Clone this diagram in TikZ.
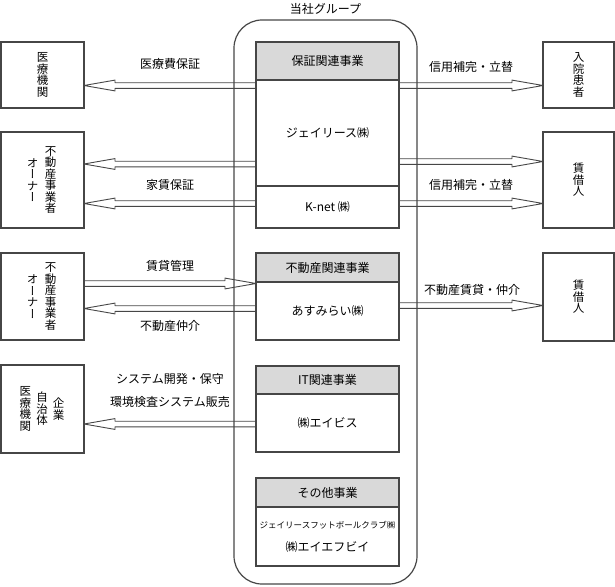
\documentclass[tikz,border=0pt]{standalone}
\usepackage{fontspec}
\setmainfont{Noto Sans CJK JP}
\newfontfamily\tatefont[RawFeature=+vert]{Noto Sans CJK JP}
\usetikzlibrary{positioning,chains,calc}
\definecolor{linegray}{RGB}{70,70,70}
\definecolor{headgray}{RGB}{217,217,217}

\begin{document}
\begin{tikzpicture}[
x=1pt,y=-1pt,
font=\fontsize{12}{14}\selectfont,
every node/.style={inner sep=0pt,outer sep=0pt},
party/.style={draw=linegray,line width=1.1pt,minimum width=83pt,anchor=north west},
tate/.style={align=center,font=\tatefont\fontsize{11.5}{11.5}\selectfont},
sect/.style={draw=linegray,line width=1.1pt,fill=headgray,minimum width=143pt,on chain},
firm/.style={draw=linegray,line width=1.1pt,minimum width=143pt,on chain},
flow/.style={draw=linegray,line width=0.9pt,line join=round,
  to path={
    ($(\tikztotarget)!31pt!(\tikztostart)$) coordinate (hb)
    ($(\tikztostart)!2.8pt!90:(\tikztotarget)$)
    -- ($(hb)!2.8pt!90:(\tikztotarget)$)
    -- ($(hb)!5.4pt!90:(\tikztotarget)$)
    -- (\tikztotarget)
    -- ($(hb)!5.4pt!-90:(\tikztotarget)$)
    -- ($(hb)!2.8pt!-90:(\tikztotarget)$)
    -- ($(\tikztostart)!2.8pt!-90:(\tikztotarget)$)}},
]
\useasboundingbox (0,0) rectangle (615,586);

% group outline
\node[draw=linegray,line width=1.2pt,rounded corners=28pt,minimum width=183pt,
  minimum height=564pt,anchor=north west] (grp) at (234,20) {};
\node[above=6pt of grp.north] (grptitle) {当社グループ};

\begin{scope}[start chain=going below,node distance=0pt]
\node[sect,minimum height=38pt,anchor=north] (sec1) at (327.5,42) {保証関連事業};
\node[firm,minimum height=106pt] (jl) {ジェイリース㈱};
\node[firm,minimum height=42pt] (knet) {K-net ㈱};
\end{scope}

\begin{scope}[start chain=going below,node distance=0pt]
\node[sect,minimum height=29pt,anchor=north] (sec2) at (327.5,253) {不動産関連事業};
\node[firm,minimum height=58pt] (ams) {あすみらい㈱};
\end{scope}

\begin{scope}[start chain=going below,node distance=0pt]
\node[sect,minimum height=28pt,anchor=north] (sec3) at (327.5,366) {IT関連事業};
\node[firm,minimum height=58pt] (avis) {㈱エイビス};
\end{scope}

\begin{scope}[start chain=going below,node distance=0pt]
\node[sect,minimum height=29pt,anchor=north] (sec4) at (327.5,478) {その他事業};
\node[firm,minimum height=59pt,align=center] (misc)
  {{\fontsize{8.5}{10}\selectfont ジェイリースフットボールクラブ㈱}\\[9pt]㈱エイエフビイ};
\end{scope}

% left side
\node[party,tate,minimum height=66pt] (hosp) at (1,42) {医\\療\\機\\関};
\node[party,minimum height=96pt] (owner1) at (1,132) {};
\node[tate] (owner1a) at ([xshift=8pt]owner1.center) {不\\動\\産\\事\\業\\者};
\node[tate] (owner1b) at ([xshift=-10pt]owner1.center) {オ\\ー\\ナ\\ー};
\node[party,minimum height=87pt] (owner2) at (1,253) {};
\node[tate] (owner2a) at ([xshift=8pt]owner2.center) {不\\動\\産\\事\\業\\者};
\node[tate] (owner2b) at ([xshift=-10pt]owner2.center) {オ\\ー\\ナ\\ー};
\node[party,minimum height=88pt] (client) at (1,365) {};
\node[tate] (clienta) at ([xshift=16pt]client.center) {企\\業};
\node[tate] (clientb) at ([xshift=-0.5pt]client.center) {自\\治\\体};
\node[tate] (clientc) at ([xshift=-17pt]client.center) {医\\療\\機\\関};

% right side
\node[party,tate,minimum width=71pt,minimum height=66pt] (inpat) at (543,42) {入\\院\\患\\者};
\node[party,tate,minimum width=71pt,minimum height=96pt] (tenant1) at (543,132) {賃\\借\\人};
\node[party,tate,minimum width=71pt,minimum height=88pt] (tenant2) at (543,253) {賃\\借\\人};

% flows
\draw[flow] (jl.west |- 0,85.5) to (hosp.east |- 0,85.5);
\draw[flow] (jl.east |- 0,85.5) to (inpat.west |- 0,85.5);
\draw[flow] (jl.west |- 0,164) to (owner1.east |- 0,164);
\draw[flow] (knet.west |- 0,203.5) to (owner1.east |- 0,203.5);
\draw[flow] (jl.east |- 0,161.5) to (tenant1.west |- 0,161.5);
\draw[flow] (knet.east |- 0,203.5) to (tenant1.west |- 0,203.5);
\draw[flow] (owner2.east |- 0,283.5) to (ams.west |- 0,283.5);
\draw[flow] (ams.west |- 0,308.5) to (owner2.east |- 0,308.5);
\draw[flow] (ams.east |- 0,305.5) to (tenant2.west |- 0,305.5);
\draw[flow] (avis.west |- 0,424) to (client.east |- 0,424);

\node (medfee) at (170,64) {医療費保証};
\node (credit1) at (471,67) {信用補完・立替};
\node (rentgua) at (170,185) {家賃保証};
\node (credit2) at (471,185) {信用補完・立替};
\node (rentmgt) at (170,266) {賃貸管理};
\node (broker) at (170,325.5) {不動産仲介};
\node (lease) at (472,290) {不動産賃貸・仲介};
\node (sysdev) at (170,378.5) {システム開発・保守};
\node (envsys) at (170,402) {環境検査システム販売};
\end{tikzpicture}
\end{document}
